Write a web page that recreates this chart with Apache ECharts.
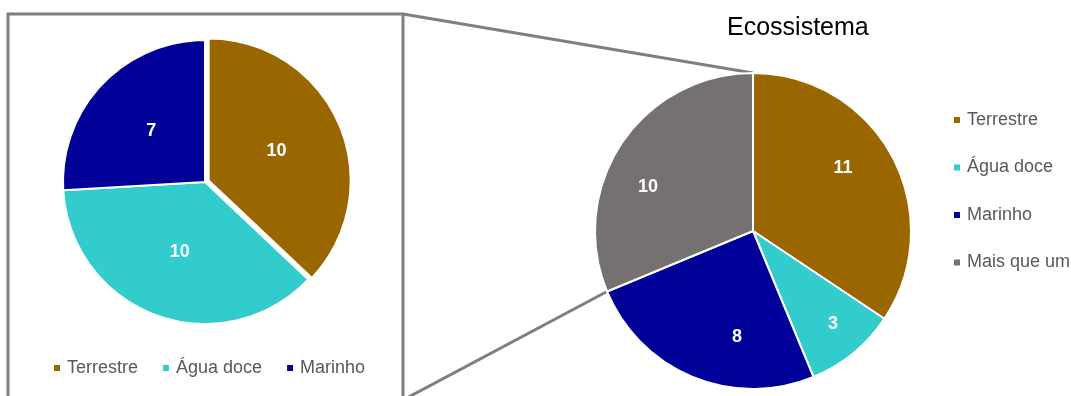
<!DOCTYPE html>
<html>
<head>
<meta charset="utf-8">
<script src="https://cdn.jsdelivr.net/npm/echarts@6/dist/echarts.min.js"></script>
<style>
  html, body { margin: 0; padding: 0; background: #fff; }
  #chart { width: 1071px; height: 396px; }
</style>
</head>
<body>
<div id="chart"></div>
<script>
// data
const subCategories = ['Terrestre', 'Água doce', 'Marinho'];
const subValues = [10, 10, 7];
const mainCategories = ['Terrestre', 'Água doce', 'Marinho', 'Mais que um'];
const mainValues = [11, 3, 8, 10];

const palette = {
  'Terrestre': '#996600',
  'Água doce': '#33CCCC',
  'Marinho': '#000099',
  'Mais que um': '#767171'
};

// layout (px)
const LEFT = { cx: 205, cy: 182, r: 142 };
const RIGHT = { cx: 753, cy: 231, r: 158 };
const BOX = { x: 8, y: 14, w: 395, h: 386 };
const FONT = 'Liberation Sans';
// Excel "best fit" label placement on the big pie, relative to its centre
const mainLabelOffsets = [[90, -63], [80, 93], [-16, 106], [-105, -44]];

// start angle of the last slice in the main pie (where the lower connector meets it)
const mainTotal = mainValues.reduce((a, b) => a + b, 0);
const lastStart = (mainTotal - mainValues[mainValues.length - 1]) / mainTotal * 2 * Math.PI;
const lowerEnd = [RIGHT.cx + RIGHT.r * Math.sin(lastStart), RIGHT.cy - RIGHT.r * Math.cos(lastStart)];

const labelStyle = {
  show: true,
  position: 'inside',
  color: '#fff',
  fontFamily: FONT,
  fontWeight: 'bold',
  fontSize: 18,
  formatter: '{c}'
};

const chart = echarts.init(document.getElementById('chart'));

chart.setOption({
  backgroundColor: '#fff',
  animation: false,
  title: {
    text: 'Ecossistema',
    left: 727,
    top: 16,
    padding: 0,
    textStyle: { fontFamily: FONT, fontSize: 25, fontWeight: 'normal', color: '#000' }
  },
  legend: [
    {
      data: subCategories,
      orient: 'horizontal',
      left: 52,
      top: 358,
      padding: 0,
      itemGap: 23,
      icon: 'rect',
      itemWidth: 8,
      itemHeight: 8,
      selectedMode: false,
      textStyle: { fontFamily: FONT, fontSize: 18, color: '#595959', lineHeight: 20, padding: [0, 0, 0, 1] }
    },
    {
      data: mainCategories,
      orient: 'vertical',
      left: 952,
      top: 110,
      padding: 0,
      itemGap: 27.5,
      icon: 'rect',
      itemWidth: 8,
      itemHeight: 8,
      selectedMode: false,
      textStyle: { fontFamily: FONT, fontSize: 18, color: '#595959', lineHeight: 20, padding: [0, 0, 0, 1] }
    }
  ],
  graphic: [
    {
      type: 'rect',
      z: -1,
      shape: { x: BOX.x, y: BOX.y, width: BOX.w, height: BOX.h },
      style: { fill: 'none', stroke: '#7F7F7F', lineWidth: 3 }
    },
    {
      type: 'line',
      z: -1,
      shape: { x1: BOX.x + BOX.w, y1: BOX.y, x2: RIGHT.cx, y2: RIGHT.cy - RIGHT.r },
      style: { stroke: '#7F7F7F', lineWidth: 3 }
    },
    {
      type: 'line',
      z: -1,
      shape: { x1: BOX.x + BOX.w, y1: BOX.y + BOX.h, x2: lowerEnd[0], y2: lowerEnd[1] },
      style: { stroke: '#7F7F7F', lineWidth: 3 }
    }
  ],
  series: [
    {
      name: 'Detalhe',
      type: 'pie',
      center: [LEFT.cx, LEFT.cy],
      radius: [0, LEFT.r],
      startAngle: 90,
      clockwise: true,
      selectedMode: 'single',
      selectedOffset: 4,
      emphasis: { disabled: true },
      itemStyle: { borderColor: '#fff', borderWidth: 2 },
      label: labelStyle,
      labelLine: { show: false },
      data: subCategories.map((name, i) => ({
        name: name,
        value: subValues[i],
        selected: i === 0,
        itemStyle: { color: palette[name] }
      }))
    },
    {
      name: 'Ecossistema',
      type: 'pie',
      center: [RIGHT.cx, RIGHT.cy],
      radius: [0, RIGHT.r],
      startAngle: 90,
      clockwise: true,
      selectedMode: false,
      emphasis: { disabled: true },
      itemStyle: { borderColor: '#fff', borderWidth: 2 },
      label: labelStyle,
      labelLine: { show: false },
      labelLayout: function (p) {
        const off = mainLabelOffsets[p.dataIndex];
        return {
          x: RIGHT.cx + off[0],
          y: RIGHT.cy + off[1],
          align: 'center',
          verticalAlign: 'middle'
        };
      },
      data: mainCategories.map((name, i) => ({
        name: name,
        value: mainValues[i],
        itemStyle: { color: palette[name] }
      }))
    }
  ]
});
</script>
</body>
</html>
